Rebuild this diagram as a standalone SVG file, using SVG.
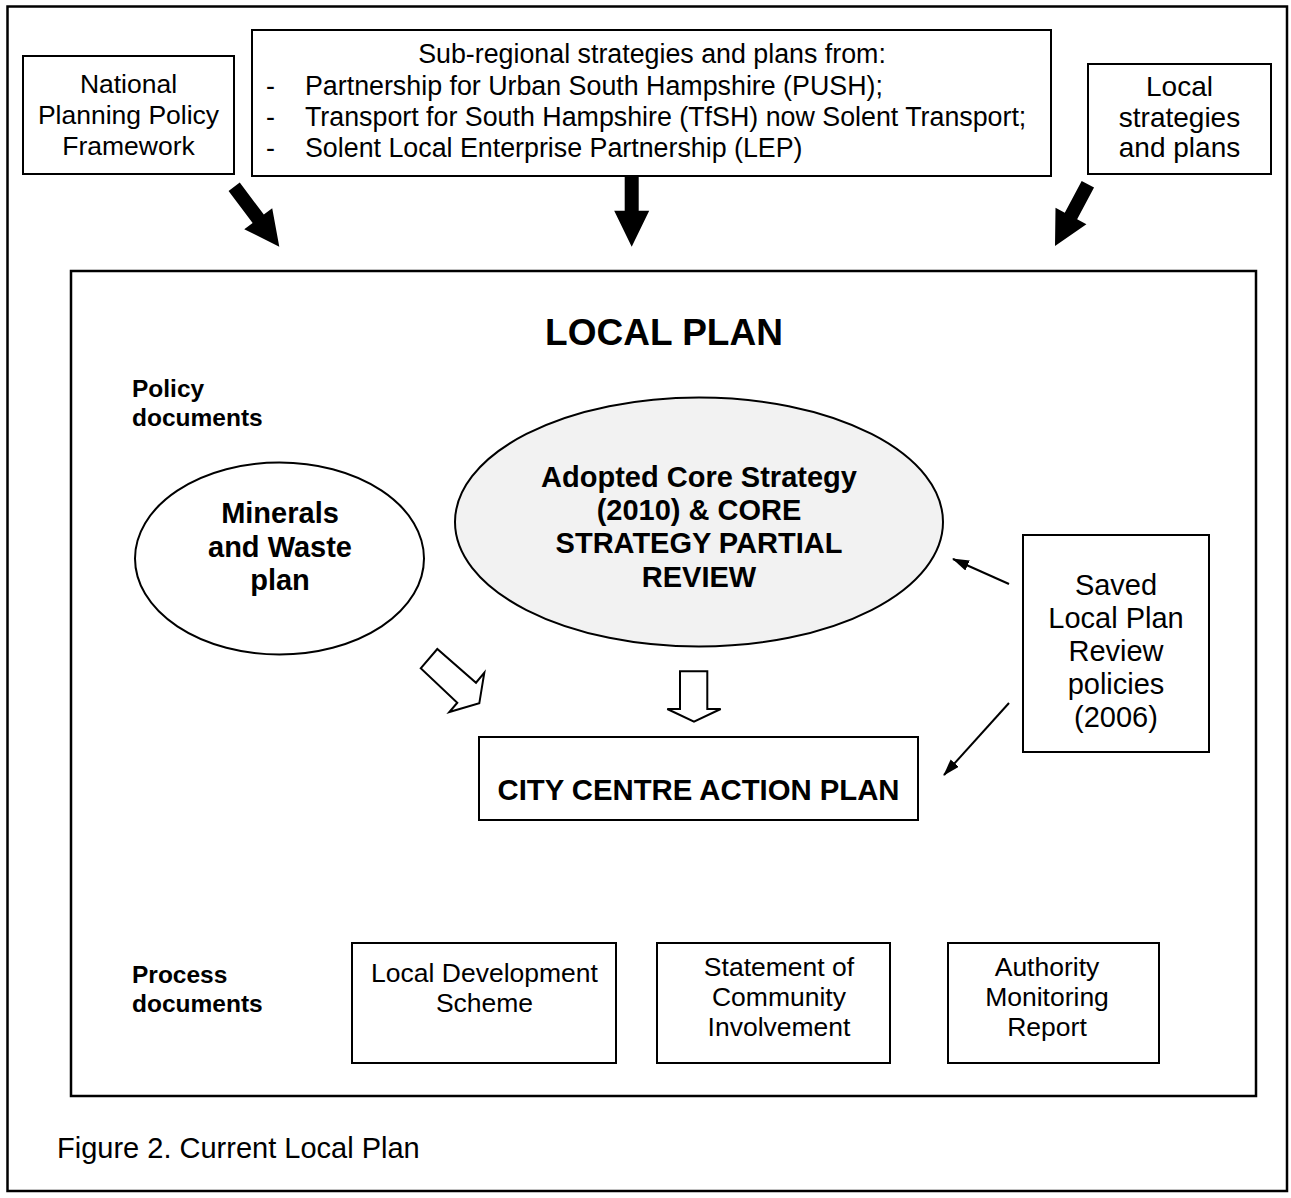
<svg xmlns="http://www.w3.org/2000/svg" width="1291" height="1198" viewBox="0 0 1291 1198">
<style>
  text { font-family: "Liberation Sans", Arial, sans-serif; fill: #000; }
  .box { fill: #fff; stroke: #000; stroke-width: 2; }
  .frame { fill: none; stroke: #000; stroke-width: 2.5; }
  .t26 { font-size: 26.5px; text-anchor: middle; }
  .sub { font-size: 26.8px; }
  .t25 { font-size: 26.5px; text-anchor: middle; }
  .t28 { font-size: 28px; text-anchor: middle; }
  .t29 { font-size: 29px; text-anchor: middle; }
  .b29 { font-size: 29px; font-weight: bold; text-anchor: middle; }
  .lbl { font-size: 24.5px; font-weight: bold; }
  .thick { fill: #000; stroke: none; }
  .hollow { fill: #fff; stroke: #000; stroke-width: 2; stroke-linejoin: miter; }
  .thin { stroke: #000; stroke-width: 2; fill: none; }
</style>
<defs>
  <marker id="ah" markerUnits="userSpaceOnUse" markerWidth="18" markerHeight="12" refX="16" refY="5.5" orient="auto">
    <path d="M0,0 L17,5.5 L0,11 z" fill="#000"/>
  </marker>
</defs>
<rect x="0" y="0" width="1291" height="1198" fill="#fff"/>
<rect id="outer-frame" class="frame" x="7.5" y="6.5" width="1279.5" height="1184.5"/>

<g id="nppf">
  <rect class="box" x="23" y="56" width="211" height="118"/>
  <text class="t26" x="128.5" y="93">National</text>
  <text class="t26" x="128.5" y="124">Planning Policy</text>
  <text class="t26" x="128.5" y="155">Framework</text>
</g>

<g id="subregional">
  <rect class="box" x="252" y="30" width="799" height="146"/>
  <text class="sub" x="652" y="63" text-anchor="middle">Sub-regional strategies and plans from:</text>
  <text class="sub" x="266" y="95">-</text>
  <text class="sub" x="305" y="95">Partnership for Urban South Hampshire (PUSH);</text>
  <text class="sub" x="266" y="126">-</text>
  <text class="sub" x="305" y="126">Transport for South Hampshire (TfSH) now Solent Transport;</text>
  <text class="sub" x="266" y="157">-</text>
  <text class="sub" x="305" y="157">Solent Local Enterprise Partnership (LEP)</text>
</g>

<g id="local-strategies">
  <rect class="box" x="1088" y="64" width="183" height="110"/>
  <text class="t28" x="1179.5" y="96">Local</text>
  <text class="t28" x="1179.5" y="127">strategies</text>
  <text class="t28" x="1179.5" y="157">and plans</text>
</g>

<g id="local-plan">
  <rect class="frame" x="71" y="271" width="1185" height="825"/>
  <text x="664" y="345" font-size="37" font-weight="bold" text-anchor="middle">LOCAL PLAN</text>
  <text class="lbl" x="132" y="397">Policy</text>
  <text class="lbl" x="132" y="426">documents</text>
  <text class="lbl" x="132" y="983">Process</text>
  <text class="lbl" x="132" y="1012">documents</text>
</g>

<g id="minerals">
  <ellipse fill="#fff" stroke="#000" stroke-width="2" cx="279.5" cy="558.5" rx="144.5" ry="96"/>
  <text class="b29" x="280" y="523">Minerals</text>
  <text class="b29" x="280" y="557">and Waste</text>
  <text class="b29" x="280" y="590">plan</text>
</g>

<g id="core-strategy">
  <ellipse fill="#f2f2f2" stroke="#000" stroke-width="2" cx="699" cy="522" rx="244" ry="124.5"/>
  <text class="b29" x="699" y="487">Adopted Core Strategy</text>
  <text class="b29" x="699" y="520">(2010) &amp; CORE</text>
  <text class="b29" x="699" y="553">STRATEGY PARTIAL</text>
  <text class="b29" x="699" y="587">REVIEW</text>
</g>

<g id="saved-policies">
  <rect class="box" x="1023" y="535" width="186" height="217"/>
  <text class="t29" x="1116" y="595">Saved</text>
  <text class="t29" x="1116" y="628">Local Plan</text>
  <text class="t29" x="1116" y="661">Review</text>
  <text class="t29" x="1116" y="694">policies</text>
  <text class="t29" x="1116" y="727">(2006)</text>
</g>

<g id="ccap">
  <rect class="box" x="479" y="737" width="439" height="83"/>
  <text class="b29" x="698.5" y="800" style="font-size:29.3px">CITY CENTRE ACTION PLAN</text>
</g>

<g id="lds">
  <rect class="box" x="352" y="943" width="264" height="120"/>
  <text class="t25" x="484.5" y="982">Local Development</text>
  <text class="t25" x="484.5" y="1012">Scheme</text>
</g>

<g id="sci">
  <rect class="box" x="657" y="943" width="233" height="120"/>
  <text class="t25" x="779" y="976">Statement of</text>
  <text class="t25" x="779" y="1006">Community</text>
  <text class="t25" x="779" y="1036">Involvement</text>
</g>

<g id="amr">
  <rect class="box" x="948" y="943" width="211" height="120"/>
  <text class="t25" x="1047" y="976">Authority</text>
  <text class="t25" x="1047" y="1006">Monitoring</text>
  <text class="t25" x="1047" y="1036">Report</text>
</g>

<g id="caption">
  <text x="57" y="1158" font-size="29">Figure 2. Current Local Plan</text>
</g>

<g id="connectors">
  <path class="thick" transform="translate(279.3,246.7) rotate(-37)" d="M-7,-75 L7,-75 L7,-35 L17.5,-35 L0,0 L-17.5,-35 L-7,-35 Z"/>
  <path class="thick" transform="translate(631.7,246.7)" d="M-7,-71 L7,-71 L7,-36 L17.5,-36 L0,0 L-17.5,-36 L-7,-36 Z"/>
  <path class="thick" transform="translate(1055,246) rotate(28)" d="M-7,-70 L7,-70 L7,-34 L17.5,-34 L0,0 L-17.5,-34 L-7,-34 Z"/>
  <polygon class="hollow" points="420.7,668.3 437.3,649 476,682.7 484.3,672.7 479.3,703.3 449.3,712 457.3,702.7"/>
  <polygon class="hollow" points="680,671.3 707.3,671.3 707.3,709 720.7,709 694,721.7 667.3,709 680,709"/>
  <line class="thin" x1="1009" y1="584" x2="953" y2="559" marker-end="url(#ah)"/>
  <line class="thin" x1="1009" y1="703" x2="944" y2="775" marker-end="url(#ah)"/>
</g>
</svg>
